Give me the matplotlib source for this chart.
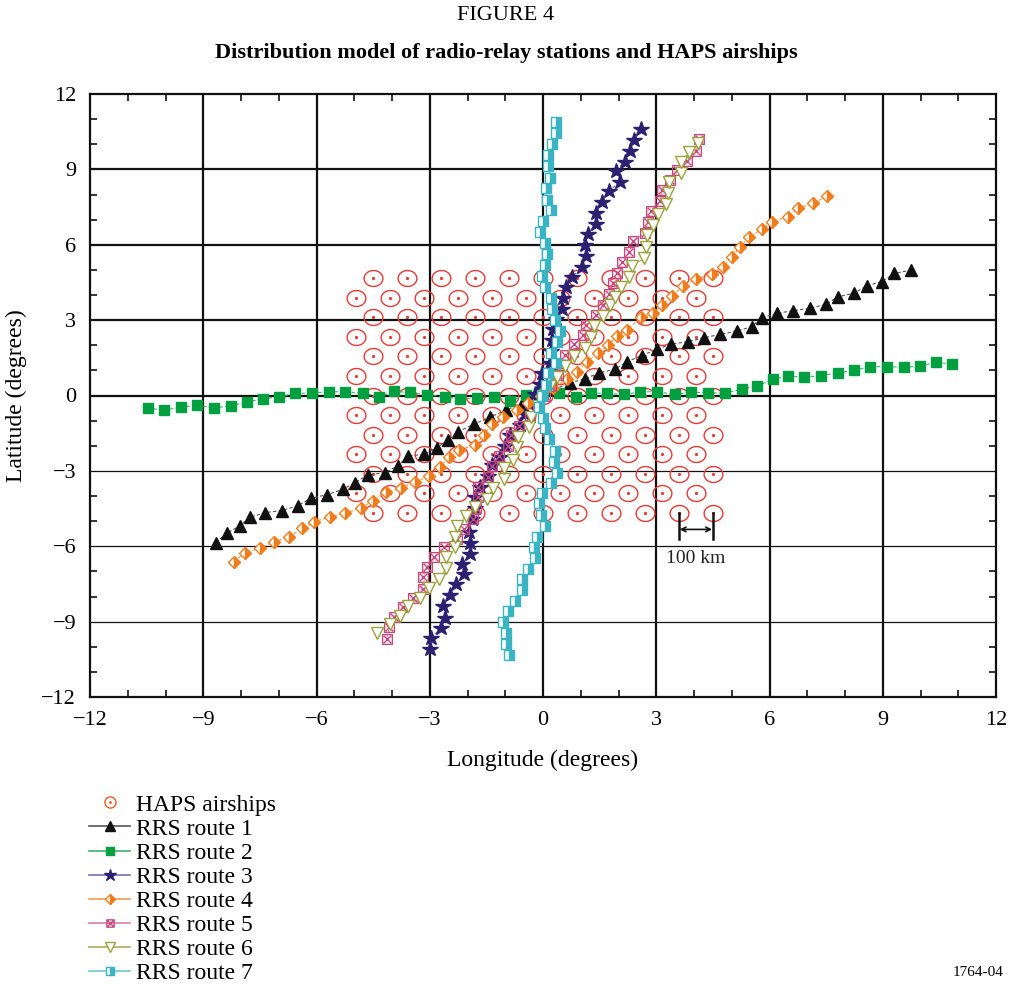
"""Distribution model of radio-relay stations and HAPS airships (Figure 4)."""

import numpy as np
import matplotlib
matplotlib.use("Agg")
import matplotlib.pyplot as plt
from matplotlib.path import Path
from matplotlib.lines import Line2D
from matplotlib.legend_handler import HandlerTuple
from matplotlib.ticker import MultipleLocator

plt.rcParams["font.family"] = ["Liberation Serif", "DejaVu Serif"]

# HAPS airships: hexagonal lattice, rows of latitude with alternating column sets
haps_lat = [4.68, 3.90, 3.12, 2.34, 1.56, 0.78, 0.0, -0.78, -1.56, -2.34, -3.12, -3.90, -4.68]
haps_lon_a = [-4.5, -3.6, -2.7, -1.8, -0.9, 0.0, 0.9, 1.8, 2.7, 3.6, 4.5]
haps_lon_b = [-4.95, -4.05, -3.15, -2.25, -1.35, -0.45, 0.45, 1.35, 2.25, 3.15, 4.05]

# RRS routes (longitude, latitude in degrees)
r1_lon = [-8.67, -8.38, -8.03, -7.76, -7.36, -6.92, -6.50, -6.15, -5.73, -5.31, -4.98, -4.64,
          -4.19, -3.83, -3.58, -3.14, -2.82, -2.51, -2.24, -1.82, -1.40, -0.98, -0.56, -0.13,
          0.29, 0.72, 1.11, 1.48, 1.91, 2.23, 2.62, 3.02, 3.40, 3.84, 4.27, 4.68, 5.13, 5.53,
          5.79, 6.21, 6.63, 7.07, 7.50, 7.81, 8.24, 8.57, 8.97, 9.31, 9.74]
r1_lat = [-5.86, -5.48, -5.19, -4.85, -4.66, -4.58, -4.39, -4.09, -3.95, -3.74, -3.47, -3.16,
          -3.07, -2.79, -2.41, -2.34, -2.08, -1.77, -1.44, -1.13, -0.86, -0.58, -0.32, -0.04,
          0.24, 0.51, 0.66, 0.90, 1.05, 1.35, 1.59, 1.84, 2.05, 2.14, 2.30, 2.43, 2.56, 2.74,
          3.10, 3.27, 3.38, 3.47, 3.63, 3.93, 4.07, 4.36, 4.53, 4.86, 4.99]

r2_lon = [-10.46, -10.03, -9.60, -9.16, -8.72, -8.27, -7.85, -7.43, -6.99, -6.57, -6.13, -5.67,
          -5.24, -4.78, -4.34, -3.94, -3.52, -3.06, -2.60, -2.19, -1.76, -1.30, -0.87, -0.45,
          -0.01, 0.43, 0.87, 1.27, 1.70, 2.15, 2.58, 3.03, 3.50, 3.92, 4.38, 4.82, 5.26, 5.67,
          6.08, 6.50, 6.92, 7.36, 7.81, 8.24, 8.66, 9.10, 9.56, 9.99, 10.41, 10.83]
r2_lat = [-0.51, -0.58, -0.47, -0.39, -0.50, -0.41, -0.26, -0.13, -0.06, 0.09, 0.09, 0.15,
          0.15, 0.09, -0.04, 0.16, 0.12, 0.02, -0.05, -0.14, -0.10, -0.06, -0.21, 0.01,
          0.06, 0.09, -0.06, 0.09, 0.09, 0.04, 0.15, 0.15, 0.04, 0.13, 0.11, 0.09, 0.25, 0.38,
          0.64, 0.78, 0.72, 0.79, 0.90, 1.00, 1.15, 1.15, 1.13, 1.16, 1.33, 1.25]

r3_lon = [-2.99, -2.97, -2.71, -2.60, -2.64, -2.46, -2.30, -2.09, -2.15, -1.93, -1.93, -1.95,
          -1.87, -1.80, -1.80, -1.67, -1.46, -1.36, -1.14, -1.01, -0.87, -0.61, -0.48, -0.34,
          -0.21, -0.07, -0.03, 0.19, 0.21, 0.24, 0.26, 0.34, 0.50, 0.52, 0.60, 0.78, 1.04,
          1.13, 1.11, 1.18, 1.40, 1.40, 1.57, 1.74, 2.04, 1.93, 2.17, 2.30, 2.42, 2.60]
r3_lat = [-10.10, -9.66, -9.27, -8.84, -8.37, -7.94, -7.51, -7.12, -6.71, -6.32, -5.86, -5.44,
          -4.92, -4.48, -4.05, -3.64, -3.20, -2.77, -2.44, -2.01, -1.57, -1.17, -0.74, -0.34,
          0.06, 0.46, 0.88, 1.28, 1.77, 2.21, 2.65, 3.04, 3.43, 3.87, 4.31, 4.73, 5.10,
          5.55, 5.99, 6.43, 6.83, 7.28, 7.71, 8.14, 8.49, 8.94, 9.31, 9.73, 10.17, 10.59]

r4_lon = [-8.19, -7.89, -7.50, -7.13, -6.73, -6.39, -6.07, -5.64, -5.24, -4.83, -4.50, -4.16,
          -3.77, -3.39, -3.01, -2.73, -2.48, -2.22, -1.80, -1.56, -1.36, -1.05, -0.70, -0.39,
          -0.05, 0.27, 0.63, 0.91, 1.17, 1.46, 1.73, 1.96, 2.23, 2.60, 2.91, 3.15, 3.42, 3.71,
          4.05, 4.47, 4.76, 5.00, 5.22, 5.46, 5.79, 6.06, 6.50, 6.76, 7.16, 7.52]
r4_lat = [-6.61, -6.25, -6.08, -5.83, -5.63, -5.29, -5.02, -4.84, -4.68, -4.49, -4.18, -3.85,
          -3.69, -3.44, -3.20, -2.83, -2.46, -2.17, -1.97, -1.57, -1.13, -0.84, -0.58, -0.31,
          -0.02, 0.29, 0.64, 0.95, 1.35, 1.68, 2.01, 2.37, 2.61, 3.12, 3.28, 3.60, 3.96, 4.36,
          4.64, 4.84, 5.11, 5.51, 5.92, 6.30, 6.61, 6.92, 7.12, 7.45, 7.65, 7.94]

r5_lon = [-4.14, -4.07, -3.95, -3.72, -3.44, -3.19, -3.19, -3.08, -2.88, -2.61, -2.29, -2.08,
          -1.86, -1.77, -1.73, -1.71, -1.45, -1.36, -1.17, -0.94, -0.86, -0.63, -0.34, -0.13,
          0.05, 0.21, 0.41, 0.50, 0.58, 0.83, 1.07, 1.14, 1.40, 1.60, 1.76, 1.85, 1.97, 2.10,
          2.29, 2.39, 2.70, 2.77, 2.86, 3.10, 3.16, 3.36, 3.56, 3.81, 4.05, 4.13]
r5_lat = [-9.68, -9.23, -8.80, -8.42, -8.07, -7.69, -7.24, -6.81, -6.42, -6.04, -5.72, -5.33,
          -4.93, -4.48, -4.05, -3.63, -3.23, -2.79, -2.41, -2.01, -1.57, -1.21, -0.84, -0.42,
          -0.02, 0.38, 0.82, 1.21, 1.61, 2.05, 2.41, 2.81, 3.20, 3.60, 4.03, 4.47, 4.88, 5.30,
          5.72, 6.15, 6.48, 6.92, 7.36, 7.74, 8.18, 8.58, 8.97, 9.35, 9.73, 10.20]

r6_lon = [-4.39, -4.05, -3.79, -3.57, -3.25, -3.01, -2.75, -2.57, -2.57, -2.33, -2.33, -2.29,
          -2.04, -1.80, -1.49, -1.33, -1.03, -1.03, -0.79, -0.70, -0.65, -0.38, -0.32, -0.13,
          0.00, 0.19, 0.36, 0.58, 0.81, 1.11, 1.28, 1.35, 1.60, 1.77, 1.91, 2.07, 2.29, 2.37,
          2.68, 2.73, 2.75, 2.92, 3.04, 3.26, 3.32, 3.35, 3.66, 3.65, 3.87, 4.11]
r6_lat = [-9.44, -9.11, -8.77, -8.37, -8.05, -7.67, -7.32, -6.88, -6.44, -6.04, -5.62, -5.19,
          -4.80, -4.43, -4.13, -3.69, -3.34, -2.89, -2.55, -2.06, -1.64, -1.25, -0.84, -0.42,
          -0.02, 0.38, 0.75, 1.17, 1.56, 1.91, 2.33, 2.75, 3.18, 3.60, 3.92, 4.33, 4.73, 5.15,
          5.46, 5.92, 6.39, 6.79, 7.22, 7.62, 8.05, 8.51, 8.84, 9.28, 9.68, 10.06]

r7_lon = [-0.89, -0.99, -0.99, -1.05, -0.92, -0.74, -0.56, -0.56, -0.39, -0.21, -0.24, -0.17,
          0.05, -0.05, -0.11, -0.03, 0.20, 0.38, 0.30, 0.32, 0.16, 0.05, 0.01, -0.11,
          -0.02, 0.08, 0.12, 0.34, 0.21, 0.38, 0.45, 0.32, 0.23, 0.20, 0.05, -0.02, 0.04, 0.11,
          0.05, -0.08, 0.01, 0.21, 0.10, 0.07, 0.19, 0.14, 0.14, 0.25, 0.34, 0.34]
r7_lat = [-10.33, -9.89, -9.44, -9.03, -8.58, -8.18, -7.74, -7.32, -6.92, -6.48, -6.04, -5.62,
          -5.19, -4.76, -4.29, -3.87, -3.47, -3.07, -2.63, -2.19, -1.74, -1.31, -0.91, -0.47,
          -0.02, 0.42, 0.88, 1.28, 1.70, 2.14, 2.57, 3.00, 3.43, 3.88, 4.32, 4.76, 5.19, 5.63,
          6.08, 6.52, 6.96, 7.38, 7.78, 8.25, 8.67, 9.15, 9.57, 10.01, 10.46, 10.90]

route_labels = ["RRS route 1", "RRS route 2", "RRS route 3", "RRS route 4",
                "RRS route 5", "RRS route 6", "RRS route 7"]

major_ticks = [-12, -9, -6, -3, 0, 3, 6, 9, 12]
grid_x = [-9, -6, -3, 0, 3, 6, 9]
grid_y_thick = [0, 3, 6, 9]
grid_y_thin = [-9, -6, -3]


def _ellipse_marker():
    t = np.linspace(0, 2 * np.pi, 60)
    verts = np.column_stack([np.cos(t), 0.85 * np.sin(t)])
    return Path(verts, closed=True)


def _boxx_marker():
    verts = [(-1, -1), (1, -1), (1, 1), (-1, 1), (-1, -1),
             (-0.75, -0.75), (0.75, 0.75), (-0.75, 0.75), (0.75, -0.75)]
    codes = [Path.MOVETO, Path.LINETO, Path.LINETO, Path.LINETO, Path.CLOSEPOLY,
             Path.MOVETO, Path.LINETO, Path.MOVETO, Path.LINETO]
    return Path(verts, codes)


RED = "#e63a36"
styles = [
    dict(marker="^", color="#111111", mfc="#111111", mec="#111111", ms=9, lc="#555555"),
    dict(marker="s", color="#00a040", mfc="#00a040", mec="#00a040", ms=7.5, lc="#3cb46a"),
    dict(marker="*", color="#2e2070", mfc="#2e2070", mec="#2e2070", ms=11.5, lc="#7a70b0"),
    dict(marker="D", color="#f07c1c", mfc="#f07c1c", mec="#f07c1c", ms=6.5, lc="#f09a50",
         fillstyle="right", mfcalt="white"),
    dict(marker=_boxx_marker(), color="#c8487e", mfc="none", mec="#c8487e", ms=7, lc="#d87fa6"),
    dict(marker="v", color="#9aa23c", mfc="white", mec="#9aa23c", ms=9, lc="#a8b060"),
    dict(marker="s", color="#3ab4c2", mfc="#3ab4c2", mec="#3ab4c2", ms=7.5, lc="#70c8d0",
         fillstyle="right", mfcalt="white"),
]
routes = [(r1_lon, r1_lat), (r2_lon, r2_lat), (r3_lon, r3_lat), (r4_lon, r4_lat),
          (r5_lon, r5_lat), (r6_lon, r6_lat), (r7_lon, r7_lat)]

fig = plt.figure(figsize=(10.12, 9.84), dpi=100)
ax = fig.add_axes([90 / 1012, 1 - 697 / 984, 906 / 1012, 603 / 984])

for gx in grid_x:
    ax.axvline(gx, color="#111111", lw=1.6, zorder=1)
for gy in grid_y_thick:
    ax.axhline(gy, color="#111111", lw=1.6, zorder=1)
for gy in grid_y_thin:
    ax.axhline(gy, color="#111111", lw=0.9, zorder=1)

# HAPS lattice
hx, hy = [], []
for i, lat in enumerate(haps_lat):
    lons = haps_lon_a if i % 2 == 0 else haps_lon_b
    hx.extend(lons)
    hy.extend([lat] * len(lons))
ell = _ellipse_marker()
ax.plot(hx, hy, ls="none", marker=ell, ms=13.5, mfc="none", mec=RED, mew=1.0, zorder=2)
ax.plot(hx, hy, ls="none", marker="o", ms=1.3, mfc=RED, mec=RED, zorder=2)

handles = [(Line2D([], [], ls="none", marker="o", ms=8, mfc="none", mec="#f05a28", mew=1.0),
            Line2D([], [], ls="none", marker="o", ms=1.0, mfc="#f05a28", mec="#f05a28"))]

for (lon, lat), st in zip(routes, styles):
    extra = {}
    if "fillstyle" in st:
        extra = dict(fillstyle=st["fillstyle"], markerfacecoloralt=st["mfcalt"])
    ax.plot(lon, lat, ls=(0, (3, 2)), lw=0.8, color=st["lc"], zorder=3)
    ax.plot(lon, lat, ls="none", marker=st["marker"], ms=st["ms"], mfc=st["mfc"],
            mec=st["mec"], mew=1.0, zorder=4, **extra)
    handles.append(Line2D([], [], color=st["lc"], lw=1.2, marker=st["marker"],
                          ms=st["ms"] * 0.75, mfc=st["mfc"], mec=st["mec"], mew=1.0, **extra))

# 100 km scale bar
ax.plot([3.6, 3.6], [-4.69, -5.72], color="#111111", lw=1.8, zorder=5)
ax.plot([4.5, 4.5], [-4.69, -5.72], color="#111111", lw=1.8, zorder=5)
ax.annotate("", xy=(3.62, -5.33), xytext=(4.48, -5.33),
            arrowprops=dict(arrowstyle="<->", color="#111111", lw=1.2,
                            mutation_scale=8, shrinkA=0, shrinkB=0), zorder=5)
ax.text(4.05, -6.5, "100 km", ha="center", va="center", fontsize=14, color="#222222")

ax.set_xlim(-12, 12)
ax.set_ylim(-12, 12)
ax.set_xticks(major_ticks)
ax.set_yticks(major_ticks)
ax.set_xticklabels([f"{t}".replace("-", "\u2212") for t in major_ticks])
ax.set_yticklabels([f"{t}".replace("-", "\u2212") for t in major_ticks])
ax.xaxis.set_minor_locator(MultipleLocator(1))
ax.yaxis.set_minor_locator(MultipleLocator(1))
ax.tick_params(which="both", direction="in", top=True, right=True, labelsize=16,
               color="#111111", width=1.2)
ax.tick_params(which="major", length=0, pad=10)
ax.tick_params(which="minor", length=5)
for sp in ax.spines.values():
    sp.set_linewidth(1.6)
    sp.set_color("#111111")

ax.set_xlabel("Longitude (degrees)", fontsize=17, labelpad=14)
ax.set_ylabel("Latitude (degrees)", fontsize=17, labelpad=10)

fig.text(0.5, 1 - 16 / 984, "FIGURE 4", ha="center", va="center", fontsize=16)
fig.text(0.5, 1 - 53 / 984, "Distribution model of radio-relay stations and HAPS airships",
         ha="center", va="center", fontsize=16, fontweight="bold")

fig.legend(handles, ["HAPS airships"] + route_labels,
           handler_map={tuple: HandlerTuple(ndivide=1, pad=0)},
           loc="upper left", bbox_to_anchor=(89 / 1012, 1 - 794 / 984),
           frameon=False, fontsize=17, labelspacing=0.11, handlelength=1.75,
           handletextpad=0.25, borderpad=0, borderaxespad=0)

fig.text(1 - 8 / 1012, 1 - 972 / 984, "1764-04", ha="right", va="center", fontsize=11)

fig.savefig("out.png", dpi=100)
